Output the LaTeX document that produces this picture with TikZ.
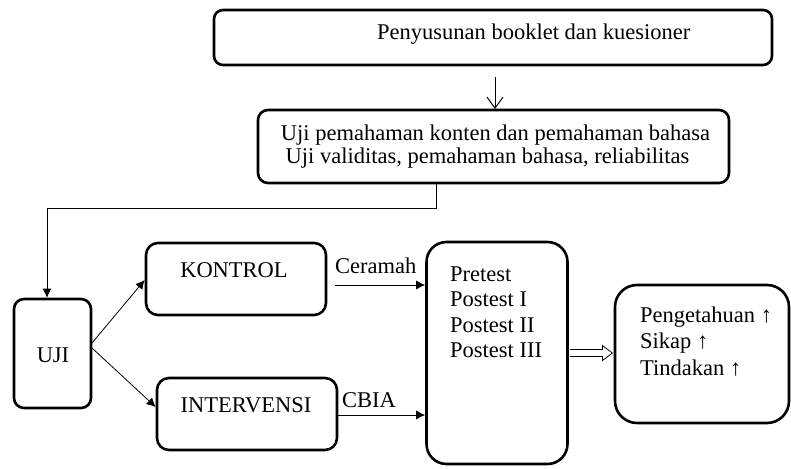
\documentclass[tikz,border=0pt]{standalone}
\usepackage{fontspec}
\setmainfont{Liberation Serif}
\usetikzlibrary{arrows.meta,calc}
\tikzset{
  box/.style={draw, line width=2.6pt, rounded corners=#1, inner sep=0pt},
  box/.default=9pt,
  txt/.style={inner sep=0pt, font=\fontsize{22.5}{25}\selectfont},
  conn/.style={draw, line width=0.8pt},
  filltip/.style={conn, -{Latex[length=9pt,width=9pt]}},
  bartip/.style={conn, -{Straight Barb[length=11pt,width=16pt,line width=1pt]}},
}
\begin{document}
\begin{tikzpicture}[x=1pt,y=-1pt]
\useasboundingbox (0,0) rectangle (791,468);
% boxes
\node[box=9pt, minimum width=558pt, minimum height=55pt] (top) at (493,37.5) {};
\node[box=10pt, minimum width=471pt, minimum height=73pt] (uji2) at (493.5,146.5) {};
\node[box=10pt, minimum width=77pt, minimum height=109pt] (uji) at (52.5,353.5) {};
\node[box=12pt, minimum width=180pt, minimum height=72pt] (kontrol) at (236,279) {};
\node[box=12pt, minimum width=180pt, minimum height=72pt] (interv) at (247,414) {};
\node[box=20pt, minimum width=141pt, minimum height=222pt] (mid) at (497,353) {};
\node[box=22pt, minimum width=174pt, minimum height=138pt] (res) at (702,354) {};
% texts
\node[txt, anchor=base west] (t1) at (377,40) {Penyusunan booklet dan kuesioner};
\node[txt, anchor=base] (t2a) at (495.5,140) {Uji pemahaman konten dan pemahaman bahasa};
\node[txt, anchor=base] (t2b) at (487.5,163) {Uji validitas, pemahaman bahasa, reliabilitas};
\node[txt, anchor=base] (tuji) at (53,362) {UJI};
\node[txt, anchor=base] (tkon) at (234,277) {KONTROL};
\node[txt, anchor=base] (tint) at (246,412) {INTERVENSI};
\node[txt, anchor=base west] (tcer) at (335,273) {Ceramah};
\node[txt, anchor=base west] (tcbia) at (342,407) {CBIA};
\node[txt, anchor=base west] (p1) at (450,281) {Pretest};
\node[txt, anchor=base west] (p2) at (450,306.5) {Postest I};
\node[txt, anchor=base west] (p3) at (450,332) {Postest II};
\node[txt, anchor=base west] (p4) at (450,357.5) {Postest III};
\node[txt, anchor=base west] (r1) at (640,322) {Pengetahuan ↑};
\node[txt, anchor=base west] (r2) at (640,348.5) {Sikap ↑};
\node[txt, anchor=base west] (r3) at (640,375) {Tindakan ↑};
% connectors
\coordinate (a1s) at (495,77);
\coordinate (a1e) at (495,109);
\draw[bartip] (a1s) -- (a1e);
\coordinate (bend1) at (436,208);
\coordinate (bend2) at (47,208);
\draw[filltip] (uji2.south -| bend1) -- (bend1) -- (bend2) -- (bend2 |- uji.north);
\coordinate (ujiA) at (92,343);
\coordinate (ujiB) at (92,348);
\draw[filltip] (ujiA) -- (kontrol.west |- 0,280);
\draw[filltip] (ujiB) -- (interv.west |- 0,407);
\coordinate (cerS) at (335,285);
\draw[filltip] (cerS) -- (mid.west |- cerS);
\draw[filltip] (interv.east |- 0,415) -- (mid.west |- 0,415);
% hollow double arrow
\coordinate (dA) at ($(mid.east)+(1.3,0)$);
\coordinate (dB) at ($(res.west)+(-1.3,-1)$);
\draw[line width=0.8pt]
  ($(dA)+(0,-3.5)$) -- ($(dB)+(-10,-3.5)$) -- ($(dB)+(-10,-7.5)$) -- (dB)
  -- ($(dB)+(-10,7.5)$) -- ($(dB)+(-10,3.5)$) -- ($(dA)+(0,3.5)$);
\end{tikzpicture}
\end{document}
